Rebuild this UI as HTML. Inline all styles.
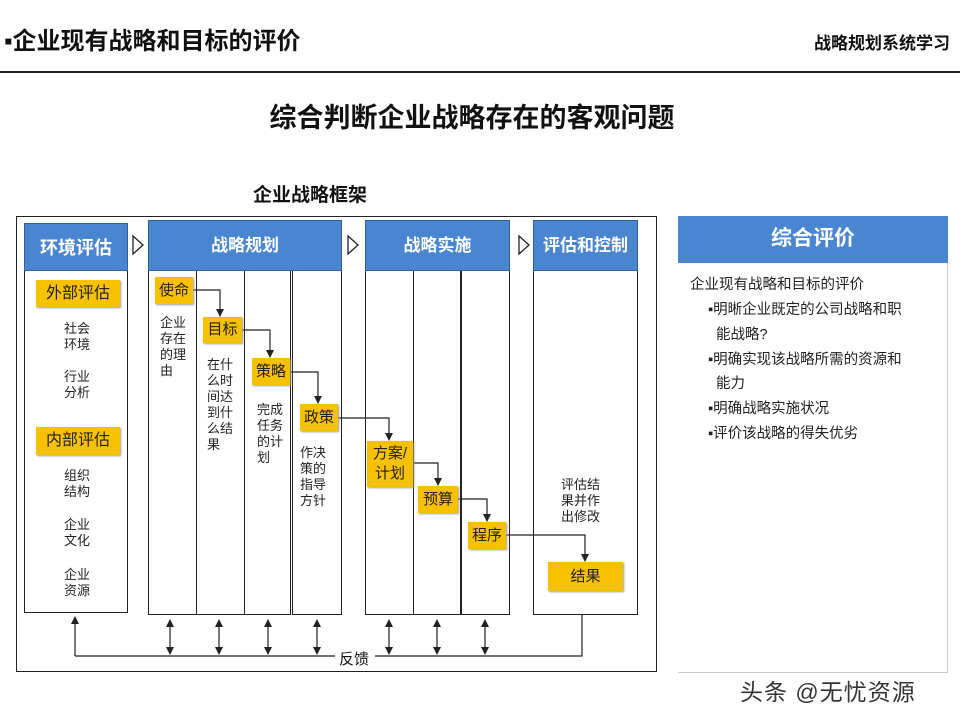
<!DOCTYPE html>
<html><head><meta charset="utf-8"><style>
*{margin:0;padding:0;box-sizing:border-box}
body{width:960px;height:720px;background:#fff;position:relative;overflow:hidden;font-family:"Liberation Sans","Noto Sans CJK SC",sans-serif;color:#111}
.a{position:absolute}
.hd{position:absolute;background:#4a86d0;color:#fff;font-weight:bold;font-size:17px;text-align:center;border:1px solid #2f5f9e}
.col{position:absolute;border:1.5px solid #222;background:#fff}
.y{position:absolute;background:#f7c100;color:#222;font-size:15px;text-align:center;box-shadow:1px 1px 2px #999}
.t{position:absolute;font-size:13px;line-height:16px;color:#222}
</style></head><body>
<div class="a" style="left:4px;top:21px;font-size:24px;font-weight:bold">▪企业现有战略和目标的评价</div>
<div class="a" style="right:10px;top:29px;font-size:17px;font-weight:bold">战略规划系统学习</div>
<div class="a" style="left:0;top:71px;width:960px;height:2px;background:#222"></div>
<div class="a" style="left:0;top:96px;width:944px;text-align:center;font-size:27px;font-weight:bold">综合判断企业战略存在的客观问题</div>
<div class="a" style="left:253px;top:180px;font-size:19px;font-weight:bold">企业战略框架</div>

<div class="a" style="left:16px;top:216px;width:641px;height:456px;border:1.5px solid #222"></div>

<div class="col" style="left:24px;top:223px;width:104px;height:390px"></div>
<div class="hd" style="left:24px;top:223px;width:104px;height:48px;line-height:48px;font-size:18px">环境评估</div>

<div class="col" style="left:148px;top:220px;width:49px;height:395px"></div>
<div class="col" style="left:196px;top:220px;width:49px;height:395px"></div>
<div class="col" style="left:244px;top:220px;width:47px;height:395px"></div>
<div class="col" style="left:292px;top:220px;width:50px;height:395px"></div>
<div class="hd" style="left:148px;top:220px;width:194px;height:51px;line-height:50px">战略规划</div>

<div class="col" style="left:365px;top:220px;width:49px;height:395px"></div>
<div class="col" style="left:413px;top:220px;width:48px;height:395px"></div>
<div class="col" style="left:461px;top:220px;width:49px;height:395px"></div>
<div class="hd" style="left:365px;top:220px;width:145px;height:51px;line-height:50px">战略实施</div>

<div class="col" style="left:533px;top:220px;width:105px;height:395px"></div>
<div class="hd" style="left:533px;top:220px;width:105px;height:51px;line-height:50px">评估和控制</div>

<svg class="a" style="left:0;top:0" width="960" height="720">
<defs><marker id="m" markerWidth="8" markerHeight="8" refX="7" refY="4" orient="auto" markerUnits="userSpaceOnUse"><path d="M0,0L8,4L0,8z" fill="#222"/></marker>
<marker id="m2" markerWidth="8" markerHeight="8" refX="1" refY="4" orient="auto" markerUnits="userSpaceOnUse"><path d="M8,0L0,4L8,8z" fill="#222"/></marker></defs>
<g fill="#fff" stroke="#222" stroke-width="1.3">
<polygon points="133,236 143,245 133,254"/><polygon points="348,236 358,245 348,254"/><polygon points="519,236 529,245 519,254"/>
</g>
<g fill="none" stroke="#222" stroke-width="1.2" marker-end="url(#m)">
<path d="M193,290H220V316"/><path d="M242,330H270V357"/><path d="M290,372H318V403"/><path d="M338,418H389V440"/>
<path d="M413,463H438V485"/><path d="M458,499H487V521"/><path d="M506,535H585V561"/>
<path d="M75,656V617"/>
</g>
<g fill="none" stroke="#222" stroke-width="1.2">
<path d="M75,656H335M375,656H582V615"/>
</g>
<g fill="none" stroke="#222" stroke-width="1.2" marker-end="url(#m)" marker-start="url(#m2)">
<path d="M170,620V654"/><path d="M219,620V654"/><path d="M268,620V654"/><path d="M317,620V654"/><path d="M389,620V654"/><path d="M437,620V654"/><path d="M485,620V654"/>
</g>
</svg>
<div class="a" style="left:339px;top:648px;font-size:15px">反馈</div>

<div class="y" style="left:36px;top:280px;width:84px;height:27px;line-height:27px;font-size:16px">外部评估</div>
<div class="y" style="left:36px;top:427px;width:84px;height:28px;line-height:28px;font-size:16px">内部评估</div>
<div class="t" style="left:64px;top:321px">社会<br>环境</div>
<div class="t" style="left:64px;top:369px">行业<br>分析</div>
<div class="t" style="left:64px;top:468px">组织<br>结构</div>
<div class="t" style="left:64px;top:517px">企业<br>文化</div>
<div class="t" style="left:64px;top:567px">企业<br>资源</div>

<div class="y" style="left:155px;top:277px;width:38px;height:27px;line-height:27px">使命</div>
<div class="y" style="left:203px;top:317px;width:39px;height:26px;line-height:26px">目标</div>
<div class="y" style="left:252px;top:358px;width:38px;height:27px;line-height:27px">策略</div>
<div class="y" style="left:300px;top:404px;width:38px;height:27px;line-height:27px">政策</div>
<div class="y" style="left:367px;top:441px;width:46px;height:46px;line-height:20px;padding-top:3px">方案/<br>计划</div>
<div class="y" style="left:418px;top:486px;width:40px;height:27px;line-height:27px">预算</div>
<div class="y" style="left:468px;top:522px;width:38px;height:27px;line-height:27px">程序</div>
<div class="y" style="left:548px;top:562px;width:75px;height:29px;line-height:29px">结果</div>

<div class="t" style="left:160px;top:315px">企业<br>存在<br>的理<br>由</div>
<div class="t" style="left:207px;top:357px">在什<br>么时<br>间达<br>到什<br>么结<br>果</div>
<div class="t" style="left:257px;top:402px">完成<br>任务<br>的计<br>划</div>
<div class="t" style="left:300px;top:445px">作决<br>策的<br>指导<br>方针</div>
<div class="t" style="left:561px;top:477px">评估结<br>果并作<br>出修改</div>

<div class="a" style="left:678px;top:216px;width:270px;height:457px;border-right:1px solid #ccc;border-bottom:1px solid #ccc"></div>
<div class="hd" style="left:678px;top:216px;width:270px;height:47px;line-height:46px;font-size:21px;border:none">综合评价</div>
<div class="a" style="left:690px;top:273px;font-size:14.5px;line-height:25px;color:#222">企业现有战略和目标的评价</div>
<div class="a" style="left:708px;top:298px;font-size:14.5px;line-height:24.8px;color:#222;width:230px">▪明晰企业既定的公司战略和职<br>&nbsp;&nbsp;能战略?<br>▪明确实现该战略所需的资源和<br>&nbsp;&nbsp;能力<br>▪明确战略实施状况<br>▪评价该战略的得失优劣</div>

<div class="a" style="left:740px;top:673px;font-size:23px;color:#333;letter-spacing:1px">头条 @无忧资源</div>
</body></html>
